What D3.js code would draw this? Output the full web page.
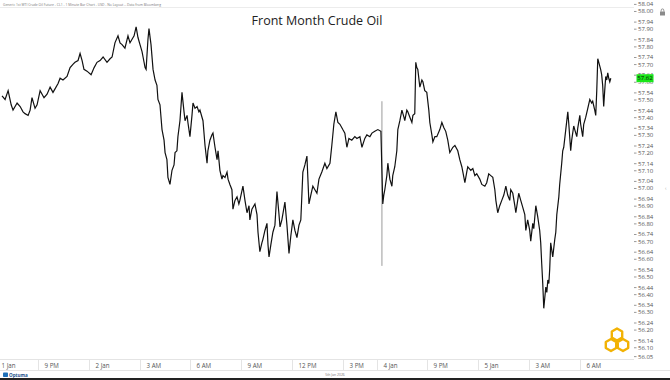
<!DOCTYPE html>
<html>
<head>
<meta charset="utf-8">
<script src="https://cdnjs.cloudflare.com/ajax/libs/d3/7.8.5/d3.min.js"></script>
<style>
  body { margin: 0; background: #fff; }
  svg { display: block; font-family: "Open Sans", sans-serif; }
</style>
</head>
<body>
<div class="visualizations"></div>
<script>
// trading hours since the 1 Jan session open (18:00), price of CL1
var cl1 = [
  [0.87,57.52],[1.05,57.50],[1.23,57.55],[1.41,57.47],[1.52,57.44],[1.76,57.48],[1.94,57.46],[2.11,57.43],[2.23,57.42],[2.41,57.41],
  [2.53,57.44],[2.64,57.51],[2.82,57.45],[2.94,57.47],[3.12,57.55],[3.35,57.51],[3.53,57.53],[3.71,57.57],[3.88,57.54],[4.00,57.56],
  [4.18,57.59],[4.30,57.62],[4.47,57.61],[4.71,57.63],[4.89,57.68],[5.07,57.70],[5.18,57.71],[5.36,57.72],[5.48,57.76],[5.60,57.72],
  [5.71,57.67],[5.89,57.66],[6.13,57.64],[6.31,57.68],[6.48,57.71],[6.66,57.72],[6.84,57.74],[7.07,57.71],[7.25,57.73],[7.37,57.74],
  [7.54,57.82],[7.72,57.86],[7.84,57.82],[7.96,57.81],[8.13,57.79],[8.31,57.86],[8.43,57.82],[8.55,57.84],[8.67,57.86],[8.79,57.91],
  [8.90,57.85],[9.02,57.81],[9.14,57.77],[9.20,57.74],[9.32,57.68],[9.38,57.67],[9.49,57.84],[9.55,57.90],[9.67,57.81],[9.79,57.67],
  [9.91,57.61],[10.02,57.58],[10.08,57.50],[10.20,57.47],[10.32,57.33],[10.44,57.27],[10.50,57.20],[10.61,57.16],[10.67,57.06],[10.79,57.02],
  [10.91,57.10],[11.03,57.13],[11.09,57.20],[11.20,57.21],[11.26,57.29],[11.38,57.38],[11.50,57.54],[11.62,57.43],[11.68,57.38],[11.80,57.41],
  [11.85,57.37],[11.97,57.29],[12.09,57.41],[12.15,57.48],[12.27,57.45],[12.39,57.46],[12.50,57.43],[12.56,57.44],[12.74,57.38],[12.86,57.24],
  [12.98,57.14],[13.03,57.21],[13.15,57.27],[13.27,57.30],[13.33,57.31],[13.45,57.23],[13.57,57.16],[13.63,57.21],[13.74,57.10],[13.86,57.05],
  [13.92,57.07],[14.04,57.06],[14.16,57.09],[14.22,57.05],[14.33,57.02],[14.45,56.99],[14.51,56.88],[14.63,56.93],[14.75,56.95],[14.86,56.91],
  [14.92,56.93],[15.10,57.01],[15.22,56.93],[15.34,56.86],[15.46,56.90],[15.51,56.82],[15.63,56.88],[15.81,56.91],[15.93,56.85],[15.99,56.75],
  [16.10,56.64],[16.22,56.69],[16.28,56.71],[16.40,56.76],[16.52,56.80],[16.58,56.68],[16.64,56.61],[16.75,56.68],[16.87,56.75],[16.99,56.79],
  [17.11,56.98],[17.23,56.85],[17.29,56.78],[17.40,56.82],[17.58,56.92],[17.70,56.79],[17.82,56.63],[17.93,56.73],[18.05,56.82],[18.17,56.76],
  [18.29,56.72],[18.41,56.79],[18.52,56.82],[18.64,57.09],[18.76,57.13],[18.88,57.18],[19.00,56.91],[19.11,56.96],[19.23,57.01],[19.35,56.99],
  [19.47,56.97],[19.59,57.05],[19.76,57.09],[19.94,57.14],[20.06,57.11],[20.24,57.14],[20.35,57.24],[20.47,57.36],[20.59,57.43],[20.71,57.37],
  [20.83,57.36],[21.00,57.33],[21.12,57.31],[21.24,57.23],[21.36,57.28],[21.53,57.27],[21.71,57.29],[21.83,57.28],[22.01,57.29],[22.13,57.23],
  [22.30,57.28],[22.42,57.30],[22.60,57.29],[22.72,57.31],[22.89,57.32],[23.07,57.33],[23.25,57.32],
  [23.36,56.91],[23.42,56.96],[23.48,56.99],[23.60,57.07],[23.66,57.14],[23.78,57.05],[23.90,57.01],[23.95,57.07],[24.07,57.12],[24.19,57.21],
  [24.25,57.33],[24.37,57.38],[24.49,57.44],[24.61,57.40],[24.66,57.38],[24.78,57.44],[24.84,57.43],[24.96,57.40],[25.08,57.37],[25.14,57.41],
  [25.25,57.42],[25.31,57.71],[25.37,57.68],[25.43,57.67],[25.55,57.57],[25.67,57.61],[25.73,57.60],[25.84,57.55],[25.96,57.54],[26.08,57.44],
  [26.14,57.37],[26.26,57.30],[26.32,57.26],[26.44,57.29],[26.55,57.29],[26.73,57.33],[26.85,57.37],[26.97,57.34],[27.08,57.32],[27.20,57.27],
  [27.32,57.20],[27.50,57.23],[27.62,57.24],[27.79,57.21],[27.91,57.16],[28.03,57.12],[28.21,57.03],[28.32,57.09],[28.38,57.12],[28.56,57.10],
  [28.68,57.11],[28.80,57.07],[28.91,57.08],[29.09,57.05],[29.21,57.02],[29.39,57.01],[29.50,57.03],[29.62,57.08],[29.74,57.07],[29.86,57.06],
  [29.98,56.99],[30.04,56.93],[30.15,56.86],[30.27,56.90],[30.39,56.93],[30.51,56.96],[30.63,57.01],[30.74,56.96],[30.86,56.93],[30.92,56.99],
  [31.04,56.97],[31.16,56.90],[31.22,56.86],[31.33,56.93],[31.39,56.97],[31.51,56.93],[31.63,56.89],[31.75,56.85],[31.81,56.76],[31.92,56.82],
  [32.04,56.76],[32.10,56.70],[32.22,56.80],[32.28,56.77],[32.40,56.90],[32.51,56.84],[32.63,56.76],[32.69,56.69],[32.75,56.57],[32.81,56.46],
  [32.87,56.32],[32.93,56.38],[32.99,56.44],[33.05,56.41],[33.11,56.48],[33.17,56.46],[33.22,56.54],[33.28,56.69],[33.34,56.65],[33.40,56.61],
  [33.52,56.71],[33.58,56.75],[33.64,56.85],[33.76,56.95],[33.81,57.02],[33.93,57.14],[33.99,57.21],[34.05,57.23],[34.17,57.33],[34.29,57.43],
  [34.35,57.36],[34.46,57.21],[34.52,57.27],[34.64,57.35],[34.70,57.33],[34.82,57.29],[34.88,57.34],[35.00,57.41],[35.05,57.36],[35.17,57.29],
  [35.23,57.36],[35.35,57.40],[35.47,57.45],[35.59,57.50],[35.70,57.48],[35.76,57.49],[35.88,57.44],[35.94,57.41],[36.00,57.55],[36.06,57.73],
  [36.12,57.71],[36.23,57.67],[36.29,57.64],[36.35,57.58],[36.41,57.46],[36.47,57.55],[36.53,57.63],[36.59,57.61],[36.65,57.65],[36.71,57.62],
  [36.77,57.60],[36.83,57.62]
];

// the 4 Jan re-open bar (drawn as a grey high-low spike)
var openBarHour = 23.31;
var openBarLow = 56.56;
var openBarHigh = 57.49;

var lastPrice = 57.62;

var yTicks = [58.04, 58.00, 57.94, 57.90, 57.84, 57.80, 57.74, 57.70, 57.64, 57.60, 57.54, 57.50,
  57.44, 57.40, 57.34, 57.30, 57.24, 57.20, 57.14, 57.10, 57.04, 57.00, 56.94, 56.90, 56.84, 56.80,
  56.74, 56.70, 56.64, 56.60, 56.54, 56.50, 56.44, 56.40, 56.34, 56.30, 56.24, 56.20, 56.14, 56.10, 56.05];

var xTickHours = [0.75, 3, 6, 9, 12, 15, 18, 21, 23, 26, 29, 32, 35];
var xTickLabels = ["1 Jan", "9 PM", "2 Jan", "3 AM", "6 AM", "9 AM", "12 PM", "3 PM", "4 Jan", "9 PM", "5 Jan", "3 AM", "6 AM"];

var width = 670, height = 380;
var svg = d3.select(".visualizations").append("svg").attr("width", width).attr("height", height);

var x = d3.scaleLinear().domain([0.75, 38.2]).range([0, 634]);
var y = d3.scaleLinear().domain([56.04, 58.04]).range([357.9, 3.9]);

// header text
svg.append("text").attr("x", 3).attr("y", 5.5).attr("textLength", 158).attr("lengthAdjust", "spacingAndGlyphs")
  .style("font-size", "3.6px").style("fill", "#777")
  .text("Generic 1st WTI Crude Oil Future - CL1 - 1 Minute Bar Chart - USD - No Layout -- Data from Bloomberg");

// frame lines
svg.append("line").attr("x1", 0).attr("y1", 7.5).attr("x2", 634).attr("y2", 7.5).style("stroke", "#ececec").style("stroke-width", 1);
svg.append("line").attr("x1", 0).attr("y1", 359.5).attr("x2", 634).attr("y2", 359.5).style("stroke", "#e4e4e4").style("stroke-width", 1);
svg.append("line").attr("x1", 0).attr("y1", 370.5).attr("x2", 670).attr("y2", 370.5).style("stroke", "#e4e4e4").style("stroke-width", 1);

// title
svg.append("text").attr("x", 317).attr("y", 24.5).attr("text-anchor", "middle")
  .style("font-size", "12.5px").style("fill", "#222").text("Front Month Crude Oil");

// open spike
svg.append("line").attr("x1", x(openBarHour)).attr("x2", x(openBarHour))
  .attr("y1", y(openBarLow)).attr("y2", y(openBarHigh))
  .style("stroke", "#9a9a9a").style("stroke-width", 1);

// price line
var line = d3.line().x(function(d) { return x(d[0]); }).y(function(d) { return y(d[1]); });
svg.append("path").datum(cl1).attr("d", line)
  .style("fill", "none").style("stroke", "#111").style("stroke-width", 1.2).style("stroke-linejoin", "miter");

// y axis
var yAxis = d3.axisRight(y).tickValues(yTicks).tickSize(2.5).tickPadding(1.5).tickFormat(d3.format(".2f"));
var gy = svg.append("g").attr("transform", "translate(634,0)").call(yAxis);
gy.select(".domain").remove();
gy.selectAll(".tick line").style("stroke", "#999");
gy.selectAll(".tick text").style("font-size", "6px").style("fill", "#555").style("font-family", "Open Sans, sans-serif");

// last price marker
svg.append("rect").attr("x", 636.5).attr("y", y(lastPrice) - 4).attr("width", 17).attr("height", 8).style("fill", "#19e619");
svg.append("text").attr("x", 645).attr("y", y(lastPrice) + 2.1).attr("text-anchor", "middle")
  .style("font-size", "6px").style("fill", "#111").text(d3.format(".2f")(lastPrice));

// x axis row
var xt = svg.append("g").selectAll("g").data(xTickHours).enter().append("g")
  .attr("transform", function(d) { return "translate(" + Math.max(0, Math.round(x(d)) + 0.5) + ",0)"; });
xt.append("line").attr("y1", 359.5).attr("y2", 370.5).style("stroke", function(d, i) { return i === 0 ? "none" : "#e4e4e4"; });
xt.append("text").attr("x", function(d, i) { return i === 0 ? 1 : 6; }).attr("y", 367.5)
  .style("font-size", "6.2px").style("fill", "#555").text(function(d, i) { return xTickLabels[i]; });

// footer
svg.append("rect").attr("x", 3).attr("y", 372.5).attr("width", 5).attr("height", 4.5).attr("rx", 0.8).style("fill", "#1e6fb8");
svg.append("text").attr("x", 9).attr("y", 376.5).style("font-size", "4.6px").style("fill", "#1e4f8a").style("font-weight", "bold").text("Optuma");
svg.append("text").attr("x", 335).attr("y", 376).attr("text-anchor", "middle").style("font-size", "3.4px").style("fill", "#777").text("5th Jan 2026");
svg.append("rect").attr("x", 0).attr("y", 378).attr("width", width).attr("height", 2).style("fill", "#222");

// lock icon
svg.append("rect").attr("x", 660).attr("y", 11.5).attr("width", 5).attr("height", 4).style("fill", "#8a8a8a");
svg.append("path").attr("d", "M661.2,11.5 v-1.3 a1.3,1.3 0 0 1 2.6,0 v1.3").style("fill", "none").style("stroke", "#8a8a8a").style("stroke-width", 0.9);
svg.append("text").attr("x", 665).attr("y", 190).style("font-size", "5px").style("fill", "#aaa").text("‹");

// hex logo
var hex = function(cx, cy, r) {
  var pts = d3.range(6).map(function(k) {
    var a = Math.PI / 3 * k + Math.PI / 6;
    return [cx + r * Math.cos(a), cy + r * Math.sin(a)];
  });
  return "M" + pts.join("L") + "Z";
};
[[617, 334.5], [611, 345], [623, 345]].forEach(function(c) {
  svg.append("path").attr("d", hex(c[0], c[1], 6)).style("fill", "none")
    .style("stroke", "#f2b203").style("stroke-width", 2.4).style("stroke-linejoin", "round");
});
</script>
</body>
</html>
